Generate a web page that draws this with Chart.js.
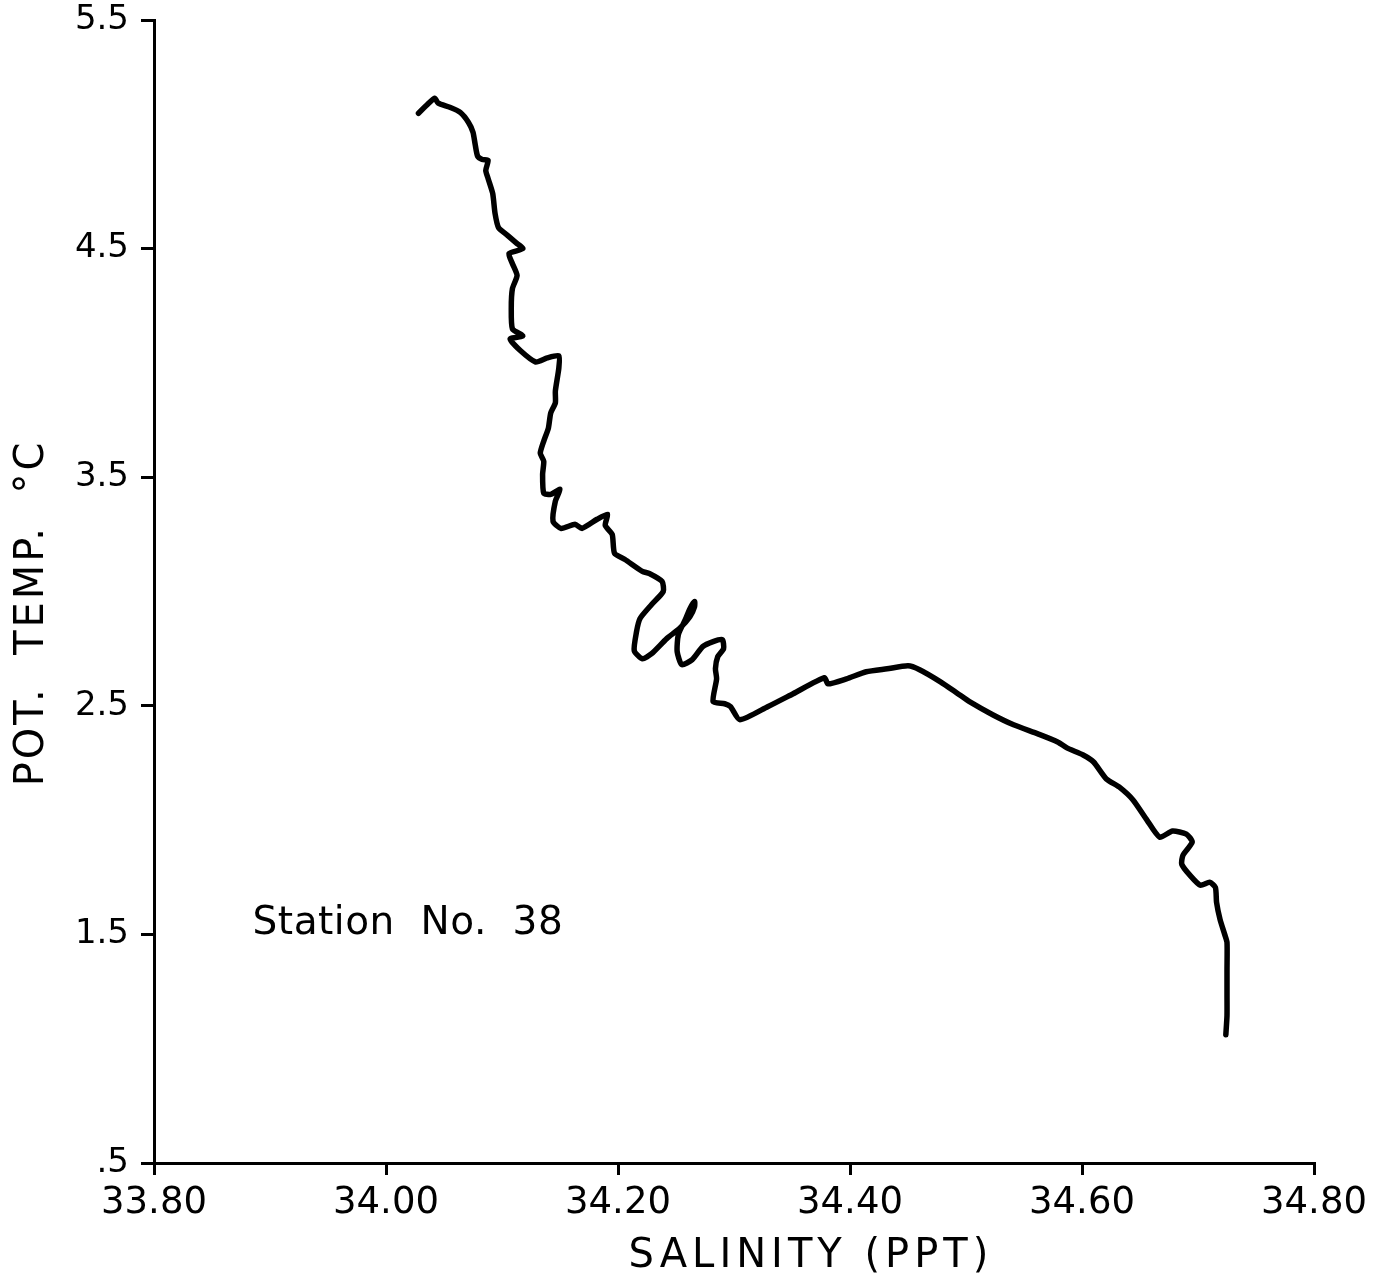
<!DOCTYPE html>
<html>
<head>
<meta charset="utf-8">
<script src="https://cdn.jsdelivr.net/npm/chart.js@4.4.0/dist/chart.umd.min.js"></script>
<style>
  html, body { margin: 0; padding: 0; background: #fff; }
  #wrap { width: 1388px; height: 1276px; position: relative; }
</style>
</head>
<body>
<div id="wrap"><canvas id="ts"></canvas></div>
<script>
// T-S trace, Station No. 38
const salinity = [
  34.028, 34.035, 34.042, 34.045, 34.055, 34.064, 34.071, 34.075, 34.077, 34.079,
  34.083, 34.088, 34.086, 34.088, 34.092, 34.094, 34.097, 34.105, 34.112, 34.118,
  34.106, 34.109, 34.113, 34.109, 34.108, 34.109, 34.118, 34.107, 34.116, 34.129,
  34.139, 34.149, 34.149, 34.146, 34.146, 34.142, 34.140, 34.136, 34.133, 34.136,
  34.135, 34.136, 34.142, 34.150, 34.146, 34.144, 34.151, 34.163, 34.169, 34.182,
  34.191, 34.189, 34.195, 34.197, 34.206, 34.221, 34.227, 34.238, 34.239, 34.229,
  34.219, 34.216, 34.214, 34.221, 34.229, 34.242, 34.253, 34.262, 34.266, 34.266,
  34.262, 34.258, 34.252, 34.251, 34.255, 34.264, 34.273, 34.282, 34.290, 34.291,
  34.286, 34.284, 34.285, 34.282, 34.292, 34.297, 34.305, 34.329, 34.351, 34.378,
  34.381, 34.397, 34.414, 34.432, 34.450, 34.460, 34.478, 34.493, 34.503, 34.523,
  34.541, 34.562, 34.579, 34.587, 34.601, 34.610, 34.621, 34.632, 34.644, 34.656,
  34.667, 34.678, 34.690, 34.695, 34.687, 34.686, 34.693, 34.702, 34.710, 34.715,
  34.716, 34.719, 34.723, 34.725, 34.725, 34.725, 34.725, 34.724
];
const potTemp = [
  5.092, 5.127, 5.158, 5.136, 5.118, 5.096, 5.053, 5.009, 4.952, 4.904,
  4.890, 4.886, 4.842, 4.807, 4.741, 4.654, 4.592, 4.557, 4.526, 4.500,
  4.478, 4.434, 4.382, 4.325, 4.241, 4.149, 4.118, 4.105, 4.053, 4.004,
  4.022, 4.031, 3.978, 3.877, 3.825, 3.781, 3.715, 3.658, 3.605, 3.570,
  3.513, 3.430, 3.425, 3.447, 3.395, 3.307, 3.276, 3.294, 3.276, 3.316,
  3.338, 3.289, 3.250, 3.167, 3.140, 3.088, 3.079, 3.044, 3.000, 2.943,
  2.882, 2.825, 2.741, 2.706, 2.728, 2.794, 2.838, 2.890, 2.934, 2.956,
  2.925, 2.877, 2.811, 2.737, 2.680, 2.702, 2.759, 2.781, 2.789, 2.750,
  2.715, 2.662, 2.618, 2.518, 2.509, 2.496, 2.439, 2.496, 2.553, 2.623,
  2.596, 2.618, 2.649, 2.662, 2.675, 2.658, 2.605, 2.553, 2.518, 2.461,
  2.417, 2.377, 2.342, 2.316, 2.285, 2.254, 2.180, 2.145, 2.088, 2.000,
  1.925, 1.952, 1.939, 1.904, 1.846, 1.807, 1.759, 1.715, 1.728, 1.706,
  1.640, 1.566, 1.500, 1.465, 1.346, 1.232, 1.145, 1.061
];

const xTicks = [33.8, 34.0, 34.2, 34.4, 34.6, 34.8];
const xTickLabels = ['33.80', '34.00', '34.20', '34.40', '34.60', '34.80'];
const yTicks = [0.5, 1.5, 2.5, 3.5, 4.5, 5.5];
const yTickLabels = ['.5', '1.5', '2.5', '3.5', '4.5', '5.5'];

const xTitle = 'SALINITY (PPT)';
const yTitle = 'POT.  TEMP.  °C';
const stationLabel = 'Station  No.  38';

const FONT = "'DejaVu Sans', 'Liberation Sans', sans-serif";

const points = salinity.map((s, i) => ({ x: s, y: potTemp[i] }));

// axis titles + station note, drawn by hand so letter spacing can match
const labelsPlugin = {
  id: 'labels',
  afterDraw(chart) {
    const ctx = chart.ctx;
    const xs = chart.scales.x, ys = chart.scales.y;
    ctx.save();
    ctx.fillStyle = '#000';
    ctx.textBaseline = 'alphabetic';

    // x title
    ctx.font = '40px ' + FONT;
    ctx.letterSpacing = '5px';
    ctx.textAlign = 'center';
    ctx.fillText(xTitle, 811, 1267);

    // y title, rotated
    ctx.save();
    ctx.translate(43, 613);
    ctx.rotate(-Math.PI / 2);
    ctx.letterSpacing = '3px';
    ctx.fillText(yTitle, 0, 0);
    ctx.restore();

    // station label
    ctx.font = '39px ' + FONT;
    ctx.letterSpacing = '0.5px';
    ctx.textAlign = 'left';
    ctx.fillText(stationLabel, xs.getPixelForValue(33.885), ys.getPixelForValue(1.50));
    ctx.restore();
  }
};

new Chart(document.getElementById('ts'), {
  type: 'scatter',
  data: {
    datasets: [{
      data: points,
      showLine: true,
      borderColor: '#000',
      borderWidth: 5.5,
      borderJoinStyle: 'round',
      borderCapStyle: 'round',
      pointRadius: 0,
      tension: 0.2,
    }]
  },
  options: {
    responsive: true,
    maintainAspectRatio: false,
    animation: false,
    layout: { padding: { top: 20, right: 74, left: 0, bottom: 0 } },
    plugins: {
      legend: { display: false },
      tooltip: { enabled: false },
    },
    scales: {
      x: {
        type: 'linear',
        min: 33.8,
        max: 34.8,
        afterBuildTicks: (sc) => { sc.ticks = xTicks.map(v => ({ value: v })); },
        afterFit: (sc) => { sc.height = 113; sc.paddingLeft = 0; sc.paddingRight = 0; },
        ticks: {
          color: '#000',
          font: { family: FONT, size: 37 },
          padding: 6,
          maxRotation: 0,
          autoSkip: false,
          callback: (v, i) => xTickLabels[i],
        },
        grid: { drawOnChartArea: false, drawTicks: true, tickLength: 12, color: '#000', lineWidth: 3 },
        border: { display: true, color: '#000', width: 3 },
      },
      y: {
        type: 'linear',
        min: 0.5,
        max: 5.5,
        afterBuildTicks: (sc) => { sc.ticks = yTicks.map(v => ({ value: v })); },
        afterFit: (sc) => { sc.width = 154; sc.paddingTop = 0; sc.paddingBottom = 0; },
        ticks: {
          color: '#000',
          font: { family: FONT, size: 34 },
          padding: 12,
          autoSkip: false,
          callback: (v, i) => yTickLabels[i],
        },
        grid: { drawOnChartArea: false, drawTicks: true, tickLength: 13, color: '#000', lineWidth: 3 },
        border: { display: true, color: '#000', width: 3 },
      },
    },
  },
  plugins: [labelsPlugin],
});
</script>
</body>
</html>
